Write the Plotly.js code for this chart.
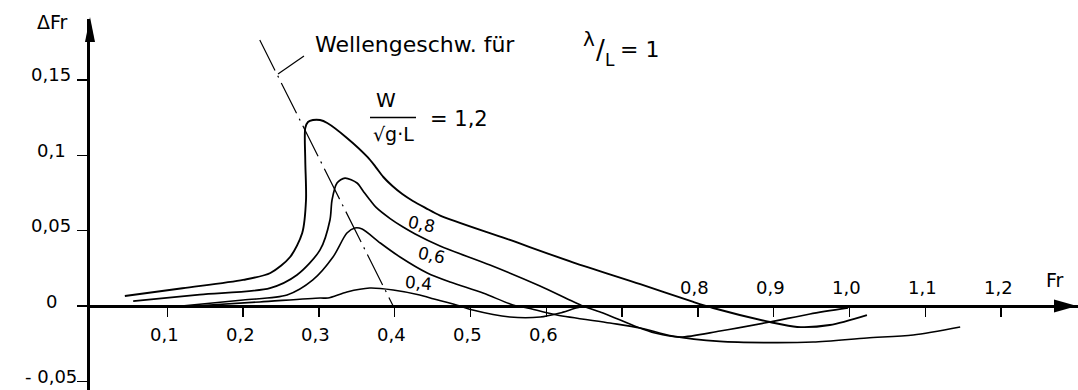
<!DOCTYPE html>
<html>
<head>
<meta charset="utf-8">
<script src="https://cdn.plot.ly/plotly-3.0.1.min.js"></script>
<style>
  html, body { margin: 0; padding: 0; background: #fff; }
  #chart { width: 1078px; height: 390px; }
</style>
</head>
<body>
<div id="chart"></div>
<script>
// ΔFr over Fr for several values of W / sqrt(g·L)
const fr12  = [0.044, 0.120, 0.200, 0.236, 0.262, 0.278, 0.283, 0.282, 0.282, 0.2856, 0.292, 0.3015, 0.311, 0.337, 0.364, 0.375, 0.385, 0.397, 0.410, 0.424, 0.441, 0.460, 0.548, 0.635, 0.724, 0.794, 0.820, 0.895, 0.931, 0.974, 1.023];
const dfr12 = [0.0066, 0.0118, 0.0173, 0.0219, 0.0325, 0.0484, 0.0703, 0.0969, 0.1181, 0.1221, 0.1234, 0.1234, 0.1214, 0.1115, 0.0989, 0.0922, 0.0856, 0.0796, 0.0743, 0.0697, 0.0650, 0.0600, 0.0445, 0.0290, 0.0145, 0.0027, -0.0013, -0.0106, -0.0139, -0.0126, -0.0060];

const fr08  = [0.055, 0.143, 0.2355, 0.271, 0.3015, 0.3146, 0.3173, 0.3239, 0.3344, 0.3503, 0.3583, 0.3674, 0.3755, 0.3940, 0.4110, 0.4270, 0.4598, 0.5257, 0.5917, 0.6484, 0.6748, 0.7197, 0.7434, 0.7764, 0.8292, 0.8951, 0.9479, 0.998];
const dfr08 = [0.0033, 0.0076, 0.0119, 0.0206, 0.0372, 0.0571, 0.0703, 0.0816, 0.0849, 0.0816, 0.0763, 0.0703, 0.0654, 0.0580, 0.0524, 0.0478, 0.0398, 0.0272, 0.0133, 0.0, -0.0046, -0.0139, -0.0179, -0.0206, -0.0166, -0.0106, -0.0053, -0.0013];

const fr06  = [0.119, 0.200, 0.258, 0.292, 0.3186, 0.337, 0.3476, 0.357, 0.381, 0.407, 0.443, 0.473, 0.5165, 0.556, 0.575, 0.614, 0.684, 0.724, 0.767, 0.829, 0.891, 0.952, 1.023, 1.084, 1.146];
const dfr06 = [0.0, 0.0040, 0.0073, 0.0173, 0.0325, 0.0484, 0.0518, 0.0511, 0.0418, 0.0325, 0.0219, 0.0159, 0.0086, 0.0007, -0.0013, -0.0060, -0.0113, -0.0146, -0.0200, -0.0235, -0.0243, -0.0239, -0.0212, -0.0192, -0.0139];

const fr04  = [0.135, 0.222, 0.3015, 0.312, 0.337, 0.367, 0.398, 0.433, 0.447, 0.486, 0.503, 0.552, 0.592, 0.618, 0.645, 0.665];
const dfr04 = [0.0, 0.0027, 0.0053, 0.0053, 0.0093, 0.0119, 0.0106, 0.0073, 0.0053, 0.0, -0.0027, -0.0073, -0.0073, -0.0046, -0.0007, 0.0];

// wave speed line for λ/L = 1
const waveFr  = [0.222, 0.398];
const waveDFr = [0.1765, 0.0];

// axis ticks
const xTickVals = [0.1, 0.2, 0.3, 0.4, 0.5, 0.6, 0.7, 0.8, 0.9, 1.0, 1.1, 1.2];
const xTickText = ['0,1', '0,2', '0,3', '0,4', '0,5', '0,6', '', '0,8', '0,9', '1,0', '1,1', '1,2'];
const yTickVals = [0.15, 0.1, 0.05, 0, -0.05];
const yTickText = ['0,15', '0,1', '0,05', '0', '- 0,05'];

// curve labels
const curveNames = ['0,8', '0,6', '0,4'];

// ---- layout geometry (pixels) ----
const W = 1078, H = 390;
const X0 = 91.5, XS = 758;   // px of Fr = 0, px per unit Fr
const Y0 = 306, YS = 1507;   // px of ΔFr = 0, px per unit ΔFr
const AXIS_LEFT = 90, AXIS_TOP = 19;
const px = x => x / W;
const py = y => 1 - y / H;
const dx = x => (x - X0) / XS;
const dy = y => (Y0 - y) / YS;

const FONT = 'DejaVu Sans, Verdana, sans-serif';
const INK = '#000';

const curve = (x, y, w) => ({
  x: x, y: y, type: 'scatter', mode: 'lines',
  line: { color: INK, width: w, shape: 'spline', smoothing: 0.8 },
  hoverinfo: 'skip', showlegend: false
});

const traces = [
  curve(fr12, dfr12, 1.9),
  curve(fr08, dfr08, 1.7),
  curve(fr06, dfr06, 1.6),
  curve(fr04, dfr04, 1.6),
  {
    x: waveFr, y: waveDFr, type: 'scatter', mode: 'lines',
    line: { color: INK, width: 1.2, dash: '34px,6px,2px,6px' },
    hoverinfo: 'skip', showlegend: false
  }
];

const annotations = [];
const txt = (text, x, y, size, opts) => Object.assign({
  text: text, x: x, y: y, xref: 'paper', yref: 'paper',
  showarrow: false, xanchor: 'center', yanchor: 'middle',
  font: { family: FONT, size: size, color: INK }
}, opts || {});

// y tick labels, left of the axis
yTickVals.forEach((v, i) => {
  annotations.push(Object.assign(txt(yTickText[i], px(51), v, 18), { yref: 'y', yshift: 5 }));
});

// x tick labels: below the axis up to 0,6, above it from 0,8 on
xTickVals.forEach((v, i) => {
  if (!xTickText[i]) return;
  const above = v > 0.75;
  annotations.push(Object.assign(txt(xTickText[i], v, 0, 18), {
    xref: 'x', yref: 'y', xshift: -3, yshift: above ? 19 : -28
  }));
});

// axis titles
annotations.push(txt('ΔFr', px(52), py(22), 19));
annotations.push(txt('Fr', px(1055), py(280), 19));

// wave speed caption: "Wellengeschw. für λ/L = 1"
annotations.push(txt('Wellengeschw. für', px(313), py(44), 22, { xanchor: 'left' }));
annotations.push(txt('λ', px(589), py(39), 20));
annotations.push(txt('/', px(600), py(50), 26));
annotations.push(txt('L', px(610), py(60), 17));
annotations.push(txt('= 1', px(618), py(50), 22, { xanchor: 'left' }));

// W / sqrt(g·L) = 1,2
annotations.push(txt('W', px(386), py(100), 20));
annotations.push(txt('√g·L', px(393), py(134), 19));
annotations.push(txt('= 1,2', px(428), py(119), 21, { xanchor: 'left' }));

// curve labels
annotations.push(txt(curveNames[0], px(421), py(224), 17, { textangle: 12 }));
annotations.push(txt(curveNames[1], px(431), py(255), 17, { textangle: 12 }));
annotations.push(txt(curveNames[2], px(418), py(283), 17, { textangle: 5 }));

const shapes = [
  // arrow heads of the axes
  {
    type: 'path', xref: 'paper', yref: 'paper',
    path: `M ${px(90)},${py(17)} L ${px(85)},${py(42)} L ${px(95)},${py(42)} Z`,
    fillcolor: INK, line: { width: 0 }
  },
  {
    type: 'path', xref: 'paper', yref: 'paper',
    path: `M ${px(1077)},${py(306)} L ${px(1054)},${py(299.5)} L ${px(1054)},${py(312.5)} Z`,
    fillcolor: INK, line: { width: 0 }
  },
  // leader from caption to the wave speed line
  {
    type: 'line', xref: 'x', yref: 'y',
    x0: dx(278), y0: dy(74), x1: dx(304), y1: dy(56),
    line: { color: INK, width: 1.2 }
  },
  // fraction bar
  {
    type: 'line', xref: 'paper', yref: 'paper',
    x0: px(370), y0: py(117.5), x1: px(416), y1: py(117.5),
    line: { color: INK, width: 1.6 }
  }
];

const layout = {
  width: W, height: H,
  margin: { l: 0, r: 0, t: 0, b: 0, pad: 0 },
  paper_bgcolor: '#fff', plot_bgcolor: '#fff',
  showlegend: false,
  xaxis: {
    domain: [px(AXIS_LEFT), 1],
    range: [dx(AXIS_LEFT), dx(W)],
    anchor: 'free', position: py(Y0), side: 'bottom',
    showline: true, linecolor: INK, linewidth: 3,
    ticks: 'outside', ticklen: 9, tickwidth: 1.5, tickcolor: INK,
    tickmode: 'array', tickvals: xTickVals, showticklabels: false,
    showgrid: false, zeroline: false, fixedrange: true
  },
  yaxis: {
    domain: [0, py(AXIS_TOP)],
    range: [dy(H), dy(AXIS_TOP)],
    anchor: 'x', side: 'left',
    showline: true, linecolor: INK, linewidth: 3,
    ticks: 'outside', ticklen: 10, tickwidth: 1.5, tickcolor: INK,
    tickmode: 'array', tickvals: yTickVals, showticklabels: false,
    showgrid: false, zeroline: false, fixedrange: true
  },
  annotations: annotations,
  shapes: shapes
};

Plotly.newPlot('chart', traces, layout, { staticPlot: true, displayModeBar: false });
</script>
</body>
</html>
